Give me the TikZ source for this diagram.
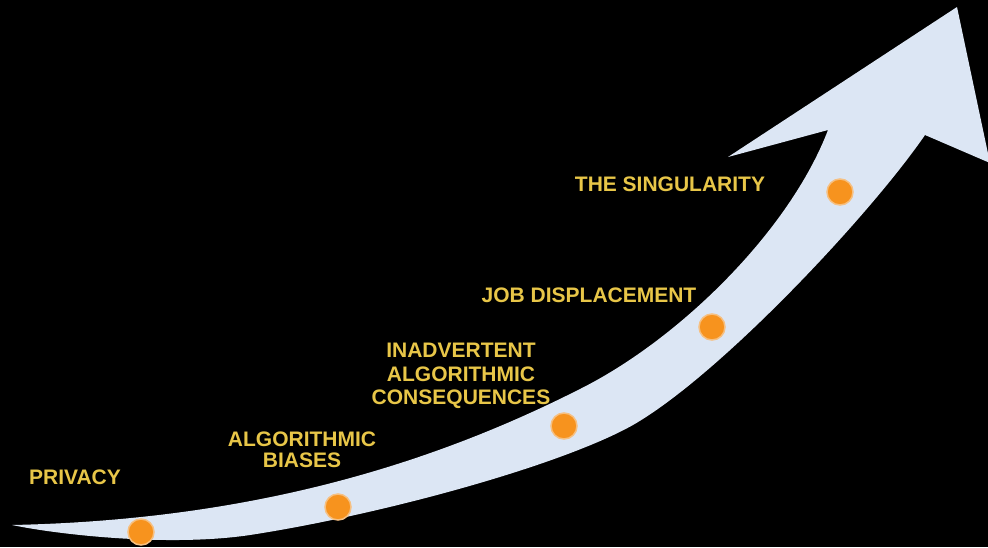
\documentclass[tikz,border=0pt]{standalone}
\usepackage{fontspec}
\setmainfont{Liberation Sans}
\definecolor{arrowfill}{RGB}{220,230,244}
\definecolor{dotorange}{RGB}{247,147,30}
\definecolor{dothalo}{RGB}{246,192,130}
\definecolor{labelgold}{RGB}{232,198,72}
\tikzset{
  milestone/.style={circle, fill=dotorange, draw=dothalo, line width=1.5pt, minimum size=26pt, inner sep=0pt},
  risklabel/.style={text=labelgold, font=\fontsize{21}{21}\selectfont\bfseries, inner sep=0pt, anchor=north, align=center},
}
\begin{document}
\begin{tikzpicture}[x=1pt,y=-1pt]
\fill[black] (0,0) rectangle (988,547);
\useasboundingbox (0,0) rectangle (988,547);
\clip (0,0) rectangle (988,547);
% curved arrow
\coordinate (tail) at (12,525);
\coordinate (mid) at (580,389);
\coordinate (notchL) at (828,130);
\coordinate (barbL) at (728,157);
\coordinate (tip) at (957,7);
\coordinate (barbR) at (990,163);
\coordinate (notchR) at (925,135);
\coordinate (lowA) at (633,425);
\coordinate (lowB) at (250,535);
\fill[arrowfill] (tail)
  .. controls (250,520) and (430,465) .. (mid)
  .. controls (680,339) and (790,230) .. (notchL)
  -- (barbL) -- (tip) -- (barbR) -- (notchR)
  .. controls (870,215) and (720,375) .. (lowA)
  .. controls (560,466) and (380,515) .. (lowB)
  .. controls (170,547) and (60,535) .. (tail)
  -- cycle;
% milestones
\node[milestone] (d1) at (141,532) {};
\node[milestone] (d2) at (338,507) {};
\node[milestone] (d3) at (564,426) {};
\node[milestone] (d4) at (712,327) {};
\node[milestone] (d5) at (840,192) {};
% labels
\node[risklabel] (l1) at (75,470) {PRIVACY};
\node[risklabel, font=\fontsize{21}{21}\selectfont\bfseries] (l2) at (302,432) {ALGORITHMIC\\BIASES};
\node[risklabel, font=\fontsize{21}{23.5}\selectfont\bfseries] (l3) at (461,343) {INADVERTENT\\ALGORITHMIC\\CONSEQUENCES};
\node[risklabel] (l4) at (589,288) {JOB DISPLACEMENT};
\node[risklabel] (l5) at (670,177) {THE SINGULARITY};
\end{tikzpicture}
\end{document}
